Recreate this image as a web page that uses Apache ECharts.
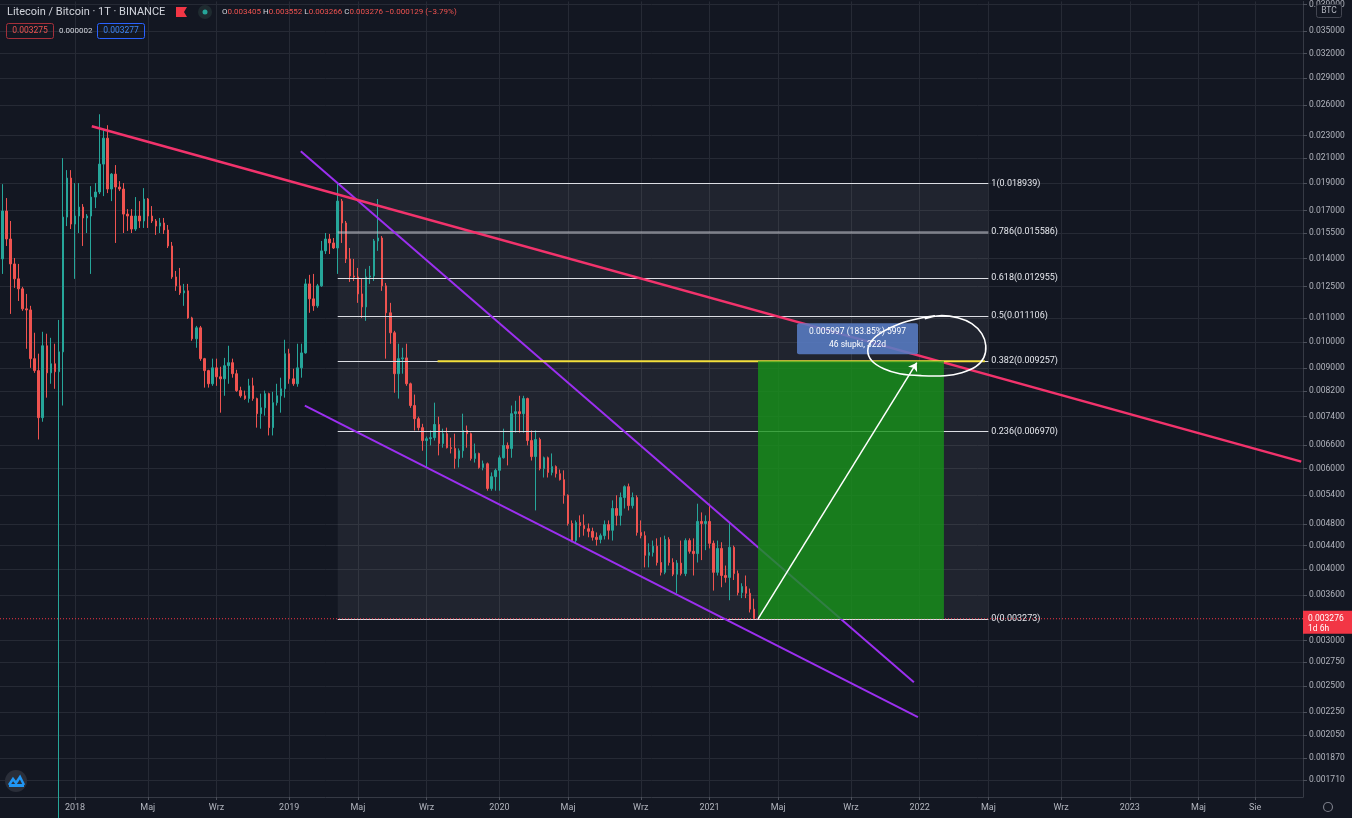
<!DOCTYPE html>
<html>
<head>
<meta charset="utf-8">
<title>Litecoin / Bitcoin · 1T · BINANCE</title>
<script src="https://cdn.jsdelivr.net/npm/echarts@6/dist/echarts.min.js"></script>
<style>
  html, body { margin: 0; padding: 0; background: #131722; }
  #main { width: 1352px; height: 818px; }
</style>
</head>
<body>
<div id="main"></div>
<script>
const WEEK = 7 * 24 * 3600 * 1000
const d = (y, m, day) => Date.UTC(y, m - 1, day)

// weekly bars (1T), first bar in view: 2017-08-28
const firstBar = d(2017, 8, 28)

const opens = [
  0.01398, 0.01696, 0.01515, 0.01370, 0.01290, 0.01239, 0.01143, 0.01138, 0.00935, 0.00891,
  0.00737, 0.00985, 0.00883, 0.00916, 0.00887, 0.00961, 0.01655, 0.01937, 0.01609, 0.01662,
  0.01723, 0.01649, 0.01662, 0.01794, 0.01831, 0.02049, 0.02275, 0.01853, 0.01968, 0.01868,
  0.01853, 0.01675, 0.01662, 0.01577, 0.01662, 0.01629, 0.01780, 0.01662, 0.01629, 0.01596,
  0.01616, 0.01571, 0.01473, 0.01300, 0.01254, 0.01219, 0.01229, 0.01102, 0.01013, 0.01059,
  0.00935, 0.00891, 0.00845, 0.00901, 0.00869, 0.00862, 0.00909, 0.00920, 0.00880, 0.00822,
  0.00805, 0.00796, 0.00838, 0.00796, 0.00749, 0.00767, 0.00812, 0.00708, 0.00783, 0.00805,
  0.00828, 0.00954, 0.00862, 0.00845, 0.00901, 0.00957, 0.01264, 0.01190, 0.01157, 0.01254,
  0.01444, 0.01515, 0.01491, 0.01461, 0.01765, 0.01616, 0.01398, 0.01305, 0.01300, 0.01214,
  0.01152, 0.01300, 0.01305, 0.01503, 0.01521, 0.01254, 0.01125, 0.01038, 0.00880, 0.00935,
  0.00938, 0.00845, 0.00774, 0.00734, 0.00708, 0.00672, 0.00677, 0.00680, 0.00717, 0.00664,
  0.00691, 0.00653, 0.00651, 0.00625, 0.00645, 0.00700, 0.00691, 0.00625, 0.00638, 0.00603,
  0.00612, 0.00554, 0.00581, 0.00596, 0.00627, 0.00659, 0.00651, 0.00749, 0.00755, 0.00749,
  0.00796, 0.00672, 0.00630, 0.00675, 0.00600, 0.00627, 0.00591, 0.00605, 0.00588, 0.00574,
  0.00539, 0.00481, 0.00449, 0.00483, 0.00477, 0.00471, 0.00466, 0.00455, 0.00451, 0.00458,
  0.00479, 0.00468, 0.00511, 0.00497, 0.00534, 0.00558, 0.00517, 0.00534, 0.00464, 0.00458,
  0.00423, 0.00428, 0.00439, 0.00411, 0.00395, 0.00451, 0.00411, 0.00392, 0.00410, 0.00393,
  0.00449, 0.00430, 0.00426, 0.00485, 0.00481, 0.00485, 0.00444, 0.00395, 0.00435, 0.00390,
  0.00387, 0.00437, 0.00393, 0.00364, 0.00373, 0.00363, 0.003405
]
const closes = [
  0.01696, 0.01515, 0.01370, 0.01290, 0.01239, 0.01143, 0.01138, 0.00935, 0.00891, 0.00737,
  0.00985, 0.00883, 0.00916, 0.00887, 0.00961, 0.01655, 0.01937, 0.01609, 0.01662, 0.01723,
  0.01649, 0.01662, 0.01794, 0.01831, 0.02049, 0.02275, 0.01853, 0.01968, 0.01868, 0.01853,
  0.01675, 0.01662, 0.01577, 0.01662, 0.01629, 0.01780, 0.01662, 0.01629, 0.01596, 0.01616,
  0.01571, 0.01473, 0.01300, 0.01254, 0.01219, 0.01229, 0.01102, 0.01013, 0.01059, 0.00935,
  0.00891, 0.00845, 0.00901, 0.00869, 0.00862, 0.00909, 0.00920, 0.00880, 0.00822, 0.00805,
  0.00796, 0.00838, 0.00796, 0.00749, 0.00767, 0.00812, 0.00708, 0.00783, 0.00805, 0.00828,
  0.00954, 0.00862, 0.00845, 0.00901, 0.00957, 0.01264, 0.01190, 0.01157, 0.01254, 0.01444,
  0.01515, 0.01491, 0.01461, 0.01765, 0.01616, 0.01398, 0.01305, 0.01300, 0.01214, 0.01152,
  0.01300, 0.01305, 0.01503, 0.01521, 0.01254, 0.01125, 0.01038, 0.00880, 0.00935, 0.00938,
  0.00845, 0.00774, 0.00734, 0.00708, 0.00672, 0.00677, 0.00680, 0.00717, 0.00664, 0.00691,
  0.00653, 0.00651, 0.00625, 0.00645, 0.00700, 0.00691, 0.00625, 0.00638, 0.00603, 0.00612,
  0.00554, 0.00581, 0.00596, 0.00627, 0.00659, 0.00651, 0.00749, 0.00755, 0.00749, 0.00796,
  0.00672, 0.00630, 0.00675, 0.00600, 0.00627, 0.00591, 0.00605, 0.00588, 0.00574, 0.00539,
  0.00481, 0.00449, 0.00483, 0.00477, 0.00471, 0.00466, 0.00455, 0.00451, 0.00458, 0.00479,
  0.00468, 0.00511, 0.00497, 0.00534, 0.00558, 0.00517, 0.00534, 0.00464, 0.00458, 0.00423,
  0.00428, 0.00439, 0.00411, 0.00395, 0.00451, 0.00411, 0.00392, 0.00410, 0.00393, 0.00449,
  0.00430, 0.00426, 0.00485, 0.00481, 0.00485, 0.00444, 0.00395, 0.00435, 0.00390, 0.00387,
  0.00437, 0.00393, 0.00364, 0.00373, 0.00363, 0.003405, 0.003276
]
const highs = [
  0.01890, 0.01787, 0.01629, 0.01403, 0.01370, 0.01249, 0.01214, 0.01157, 0.01038, 0.00954,
  0.01042, 0.01034, 0.01017, 0.00993, 0.01093, 0.02099, 0.02000, 0.02000, 0.01898, 0.01898,
  0.01744, 0.01675, 0.01875, 0.01898, 0.02505, 0.02359, 0.02397, 0.01976, 0.02041, 0.01913,
  0.01898, 0.01709, 0.01709, 0.01794, 0.01765, 0.01860, 0.01787, 0.01730, 0.01642, 0.01649,
  0.01649, 0.01603, 0.01497, 0.01332, 0.01348, 0.01264, 0.01264, 0.01107, 0.01067, 0.01067,
  0.00938, 0.00894, 0.00935, 0.00935, 0.00905, 0.00938, 0.00985, 0.00935, 0.00894, 0.00835,
  0.00822, 0.00862, 0.00866, 0.00799, 0.00812, 0.00822, 0.00815, 0.00818, 0.00845, 0.00866,
  0.01009, 0.00973, 0.00898, 0.00993, 0.00993, 0.01290, 0.01311, 0.01316, 0.01264, 0.01503,
  0.01552, 0.01546, 0.01521, 0.018939, 0.01780, 0.01629, 0.01461, 0.01398, 0.01348, 0.01290,
  0.01343, 0.01359, 0.01515, 0.01780, 0.01533, 0.01269, 0.01171, 0.01046, 0.00993, 0.00977,
  0.00993, 0.00849, 0.00809, 0.00740, 0.00719, 0.00683, 0.00700, 0.00783, 0.00740, 0.00705,
  0.00708, 0.00680, 0.00691, 0.00651, 0.00749, 0.00714, 0.00694, 0.00664, 0.00640, 0.00620,
  0.00615, 0.00591, 0.00600, 0.00633, 0.00705, 0.00667, 0.00774, 0.00789, 0.00805, 0.00805,
  0.00799, 0.00700, 0.00700, 0.00680, 0.00630, 0.00630, 0.00638, 0.00608, 0.00598, 0.00596,
  0.00541, 0.00487, 0.00487, 0.00497, 0.00499, 0.00481, 0.00473, 0.00464, 0.00462, 0.00487,
  0.00487, 0.00528, 0.00539, 0.00545, 0.00561, 0.00565, 0.00545, 0.00539, 0.00487, 0.00466,
  0.00444, 0.00449, 0.00453, 0.00455, 0.00458, 0.00455, 0.00418, 0.00415, 0.00449, 0.00453,
  0.00453, 0.00453, 0.00521, 0.00503, 0.00497, 0.00521, 0.00449, 0.00449, 0.00446, 0.00406,
  0.00483, 0.00440, 0.00398, 0.00378, 0.00390, 0.00370, 0.003552
]
const lows = [
  0.01316, 0.01473, 0.01120, 0.01244, 0.01180, 0.01134, 0.00973, 0.00901, 0.00883, 0.00675,
  0.00725, 0.00799, 0.00845, 0.00828, 0.00120, 0.00774, 0.01596, 0.01577, 0.01290, 0.01552,
  0.01473, 0.01552, 0.01316, 0.01716, 0.01816, 0.01801, 0.01823, 0.01765, 0.01491, 0.01838,
  0.01552, 0.01565, 0.01552, 0.01565, 0.01584, 0.01584, 0.01584, 0.01616, 0.01540, 0.01552,
  0.01546, 0.01461, 0.01290, 0.01229, 0.01209, 0.01157, 0.01098, 0.01005, 0.00977, 0.00927,
  0.00832, 0.00832, 0.00838, 0.00838, 0.00752, 0.00805, 0.00845, 0.00866, 0.00818, 0.00799,
  0.00792, 0.00783, 0.00789, 0.00708, 0.00705, 0.00743, 0.00686, 0.00686, 0.00774, 0.00752,
  0.00799, 0.00845, 0.00838, 0.00835, 0.00866, 0.00954, 0.01125, 0.01134, 0.01148, 0.01249,
  0.01426, 0.01426, 0.01455, 0.01316, 0.01491, 0.01375, 0.01274, 0.01279, 0.01171, 0.01102,
  0.01089, 0.01264, 0.01279, 0.01444, 0.01229, 0.00935, 0.00993, 0.00815, 0.00796, 0.00880,
  0.00838, 0.00767, 0.00700, 0.00700, 0.00645, 0.00603, 0.00659, 0.00672, 0.00633, 0.00653,
  0.00651, 0.00638, 0.00600, 0.00603, 0.00627, 0.00653, 0.00620, 0.00615, 0.00600, 0.00596,
  0.00549, 0.00549, 0.00549, 0.00549, 0.00625, 0.00608, 0.00627, 0.00694, 0.00694, 0.00694,
  0.00659, 0.00620, 0.00507, 0.00596, 0.00579, 0.00579, 0.00584, 0.00579, 0.00572, 0.00521,
  0.00477, 0.00446, 0.00444, 0.00455, 0.00458, 0.00455, 0.00449, 0.00440, 0.00444, 0.00451,
  0.00451, 0.00449, 0.00477, 0.00477, 0.00511, 0.00507, 0.00511, 0.00458, 0.00453, 0.00403,
  0.00403, 0.00421, 0.00406, 0.00390, 0.00392, 0.00406, 0.00389, 0.00363, 0.00390, 0.00389,
  0.00426, 0.00390, 0.00411, 0.00415, 0.00432, 0.00435, 0.00367, 0.00390, 0.00372, 0.00379,
  0.00353, 0.00383, 0.00360, 0.00356, 0.00356, 0.00336, 0.003266
]

// price scale labels (right axis) and time labels (bottom axis)
const priceTicks = [
  0.039, 0.035, 0.032, 0.029, 0.026, 0.023, 0.021, 0.019, 0.017, 0.0155, 0.014, 0.0125,
  0.011, 0.010, 0.009, 0.0082, 0.0074, 0.0066, 0.006, 0.0054, 0.0048, 0.0044, 0.004,
  0.0036, 0.003, 0.00275, 0.0025, 0.00225, 0.00205, 0.00187, 0.00171
]
const timeTicks = [
  d(2018, 1, 1), d(2018, 5, 7), d(2018, 9, 3), d(2019, 1, 7), d(2019, 5, 6), d(2019, 9, 2),
  d(2020, 1, 6), d(2020, 5, 4), d(2020, 9, 7), d(2021, 1, 4), d(2021, 5, 3), d(2021, 9, 6),
  d(2022, 1, 3), d(2022, 5, 2), d(2022, 9, 5), d(2023, 1, 2), d(2023, 5, 1), d(2023, 8, 7)
]
const monthNames = { 4: 'Maj', 7: 'Sie', 8: 'Wrz' }

// drawings
const fibLow = 0.003273
const fibHigh = 0.018939
const fibLevels = [1, 0.786, 0.618, 0.5, 0.382, 0.236, 0]
const fibStart = d(2019, 4, 1)
const fibEnd = d(2022, 5, 2)
const yellowLine = [[d(2019, 9, 21), 0.009257], [d(2022, 4, 26), 0.009257]]
const longStart = d(2021, 3, 29)
const longEnd = d(2022, 2, 14)
const arrowEnd = [d(2021, 12, 29), 0.0092]
const pinkLine = [[d(2018, 1, 30), 0.02387], [d(2023, 10, 26), 0.006174]]
const purpleUpper = [[d(2019, 1, 27), 0.02159], [d(2021, 12, 24), 0.002536]]
const purpleLower = [[d(2019, 2, 3), 0.007735], [d(2021, 12, 31), 0.002203]]
const lastClose = 0.003276

const xMin = d(2017, 8, 24)
const xMax = d(2023, 10, 29)

const fibPrice = l => fibLow + l * (fibHigh - fibLow)

const bars = opens.map((o, i) => [firstBar + i * WEEK, o, closes[i], lows[i], highs[i]])

const chart = echarts.init(document.getElementById('main'))
const FONT = 'Roboto, "Noto Sans", sans-serif'

const option = {
  backgroundColor: '#131722',
  animation: false,
  textStyle: { fontFamily: FONT },
  grid: { left: 0, right: 49, top: 0, bottom: 21 },
  xAxis: {
    type: 'value',
    min: xMin,
    max: xMax,
    axisLine: { show: true, onZero: false, lineStyle: { color: '#363a45' } },
    axisTick: { show: true, customValues: timeTicks, length: 3, lineStyle: { color: '#4c505b' } },
    axisLabel: {
      customValues: timeTicks,
      color: '#b2b5be',
      fontSize: 9,
      margin: 6,
      formatter: v => {
        const dt = new Date(v)
        const m = dt.getUTCMonth()
        return m === 0 ? String(dt.getUTCFullYear()) : monthNames[m]
      }
    },
    splitLine: { show: true, lineStyle: { color: '#262a35', width: 1 } }
  },
  yAxis: {
    type: 'log',
    logBase: 10,
    position: 'right',
    min: 0.0015965,
    max: 0.03949,
    axisLine: { show: true, lineStyle: { color: '#363a45' } },
    axisTick: { show: true, customValues: priceTicks, length: 4, lineStyle: { color: '#4c505b' } },
    axisLabel: {
      customValues: priceTicks,
      color: '#b2b5be',
      fontSize: 8.5,
      margin: 6,
      formatter: v => Number(v).toFixed(6)
    },
    splitLine: { show: true, lineStyle: { color: '#262a35', width: 1 } }
  },
  series: [
    // fib retracement background + levels
    {
      type: 'line',
      data: [],
      silent: true,
      markArea: {
        silent: true,
        z: 1,
        itemStyle: { color: 'rgba(255,255,255,0.06)' },
        data: [[{ coord: [fibStart, fibHigh] }, { coord: [fibEnd, fibLow] }]]
      },
      markLine: {
        silent: true,
        z: 3,
        symbol: 'none',
        data: fibLevels.map(l => [
          {
            coord: [fibStart, fibPrice(l)],
            lineStyle: l === 0.786
              ? { color: 'rgba(190,192,200,0.6)', width: 2.5, type: 'solid' }
              : { color: '#dcdee4', width: 1.2, type: 'solid' },
            label: {
              show: true,
              position: 'end',
              distance: 3,
              color: '#e6e8ee',
              fontSize: 9,
              fontFamily: FONT,
              formatter: `${l}(${fibPrice(l).toFixed(6)})`
            }
          },
          { coord: [fibEnd, fibPrice(l)] }
        ])
      }
    },
    {
      type: 'candlestick',
      data: bars,
      encode: { x: 0, y: [1, 2, 3, 4] },
      barWidth: 2,
      clip: true,
      z: 2,
      itemStyle: {
        color: '#26a69a', color0: '#ef5350',
        borderColor: '#26a69a', borderColor0: '#ef5350', borderWidth: 1
      }
    },
    // last price line
    {
      type: 'line',
      data: [[xMin, lastClose], [xMax, lastClose]],
      symbol: 'none',
      silent: true,
      z: 3,
      lineStyle: { color: '#f23645', width: 1, type: [1, 2] }
    },
    {
      type: 'line', data: purpleUpper, symbol: 'none', silent: true, z: 4,
      lineStyle: { color: '#9c2ff0', width: 2 }
    },
    {
      type: 'line', data: purpleLower, symbol: 'none', silent: true, z: 4,
      lineStyle: { color: '#9c2ff0', width: 2 }
    },
    {
      type: 'line', data: pinkLine, symbol: 'none', silent: true, z: 4,
      lineStyle: { color: '#f2336c', width: 2.5 }
    },
    {
      type: 'line', data: yellowLine, symbol: 'none', silent: true, z: 5,
      lineStyle: { color: '#f3e03c', width: 2 }
    },
    // long position target zone + arrow
    {
      type: 'line',
      data: [],
      silent: true,
      markArea: {
        silent: true,
        z: 6,
        itemStyle: { color: 'rgba(22,146,25,0.8)' },
        data: [[{ coord: [longStart, fibPrice(0.382)] }, { coord: [longEnd, fibLow] }]]
      },
      markLine: {
        silent: true,
        z: 7,
        symbol: ['none', 'arrow'],
        symbolSize: 8,
        label: { show: false },
        lineStyle: { color: '#ffffff', width: 1.5, type: 'solid' },
        data: [[{ coord: [longStart, fibLow] }, { coord: arrowEnd }]]
      }
    }
  ]
}

chart.setOption(option)

const px = (t, v) => chart.convertToPixel({ gridIndex: 0 }, [t, v])
const [gx, gy] = px(longStart, fibPrice(0.382))
const [ax, ay] = px(arrowEnd[0], arrowEnd[1])
const [, tagY] = px(longStart, lastClose)

// hand-drawn loop around the target
const cx = ax + 10
const cy = ay - 17
const loop = [
  [-2, -27], [13, -30], [31, -28], [45, -22], [55, -12], [59, 0], [57, 12], [49, 21],
  [35, 27], [18, 30], [-5, 30], [-27, 28], [-43, 23], [-55, 15], [-59, 5], [-55, -5],
  [-44, -14], [-27, -22], [-9, -27], [8, -30]
].map(([dx, dy]) => [cx + dx, cy + dy])

const rx = gx + 39
const ry = gy - 38

chart.setOption({
  graphic: [
    // header
    {
      type: 'text', x: 7, y: 12, z: 100,
      style: { text: 'Litecoin / Bitcoin · 1T · BINANCE', fill: '#d1d4dc', font: `11px ${FONT}`, verticalAlign: 'middle' }
    },
    {
      type: 'polygon', z: 100,
      shape: { points: [[176, 7], [187, 7], [184, 12], [187, 17], [176, 17]] },
      style: { fill: '#f23645' }
    },
    { type: 'circle', z: 100, shape: { cx: 205, cy: 12, r: 7 }, style: { fill: '#1f2b30' } },
    { type: 'circle', z: 101, shape: { cx: 205, cy: 12, r: 2.5 }, style: { fill: '#26a69a' } },
    {
      type: 'text', x: 222, y: 12, z: 100,
      style: {
        text: '{l|O}{v|0.003405} {l|H}{v|0.003552} {l|L}{v|0.003266} {l|C}{v|0.003276} {v|−0.000129 (−3.79%)}',
        font: `8px ${FONT}`,
        verticalAlign: 'middle',
        rich: {
          l: { fill: '#d1d4dc', font: `8px ${FONT}` },
          v: { fill: '#ef5350', font: `8px ${FONT}` }
        }
      }
    },
    {
      type: 'rect', z: 100, shape: { x: 6.5, y: 23.5, width: 47, height: 15, r: 2 },
      style: { fill: 'none', stroke: '#a5303a', lineWidth: 1 }
    },
    {
      type: 'text', x: 30, y: 31, z: 100,
      style: { text: '0.003275', fill: '#ef5350', font: `8.5px ${FONT}`, align: 'center', verticalAlign: 'middle' }
    },
    {
      type: 'text', x: 59, y: 31, z: 100,
      style: { text: '0.000002', fill: '#d1d4dc', font: `8px ${FONT}`, verticalAlign: 'middle' }
    },
    {
      type: 'rect', z: 100, shape: { x: 97.5, y: 23.5, width: 47, height: 15, r: 2 },
      style: { fill: 'none', stroke: '#2962ff', lineWidth: 1 }
    },
    {
      type: 'text', x: 121, y: 31, z: 100,
      style: { text: '0.003277', fill: '#3d85f5', font: `8.5px ${FONT}`, align: 'center', verticalAlign: 'middle' }
    },
    // right axis badge + last price tag
    {
      type: 'rect', z: 100, shape: { x: 1316.5, y: 4.5, width: 25, height: 13, r: 2 },
      style: { fill: '#131722', stroke: '#434651', lineWidth: 1 }
    },
    {
      type: 'text', x: 1329, y: 11, z: 101,
      style: { text: 'BTC', fill: '#b2b5be', font: `8.5px ${FONT}`, align: 'center', verticalAlign: 'middle' }
    },
    {
      type: 'rect', z: 100, shape: { x: 1303, y: tagY - 8, width: 49, height: 23 },
      style: { fill: '#f23645' }
    },
    {
      type: 'text', x: 1308, y: tagY, z: 101,
      style: { text: '0.003276', fill: '#ffffff', font: `8.5px ${FONT}`, verticalAlign: 'middle' }
    },
    {
      type: 'text', x: 1308, y: tagY + 10, z: 101,
      style: { text: '1d 6h', fill: '#ffffff', font: `8.5px ${FONT}`, verticalAlign: 'middle' }
    },
    // price range label
    {
      type: 'rect', z: 100, shape: { x: rx, y: ry, width: 121, height: 31, r: 2 },
      style: { fill: 'rgba(88,124,196,0.88)' }
    },
    {
      type: 'text', x: rx + 60.5, y: ry + 8.5, z: 101,
      style: { text: '0.005997 (183.85%) 5997', fill: '#ffffff', font: `8.5px ${FONT}`, align: 'center', verticalAlign: 'middle' }
    },
    {
      type: 'text', x: rx + 60.5, y: ry + 22, z: 101,
      style: { text: '46 słupki, 322d', fill: '#ffffff', font: `8.5px ${FONT}`, align: 'center', verticalAlign: 'middle' }
    },
    {
      type: 'polyline', z: 102,
      shape: { points: loop, smooth: 0.35 },
      style: { stroke: '#ffffff', lineWidth: 1.6, fill: null }
    },
    // TradingView logo + settings
    { type: 'circle', z: 100, shape: { cx: 16, cy: 781, r: 11 }, style: { fill: '#2a2e39' } },
    {
      type: 'polyline', z: 101,
      shape: { points: [[9, 785], [13, 779], [16, 783], [20, 777], [24, 785]] },
      style: { stroke: '#2196f3', lineWidth: 2.5, fill: null }
    },
    {
      type: 'rect', z: 101, shape: { x: 9, y: 784, width: 15, height: 3 },
      style: { fill: '#2196f3' }
    },
    {
      type: 'circle', z: 100, shape: { cx: 1328, cy: 807, r: 4.5 },
      style: { fill: 'none', stroke: '#787b86', lineWidth: 1.2 }
    }
  ]
})
</script>
</body>
</html>
